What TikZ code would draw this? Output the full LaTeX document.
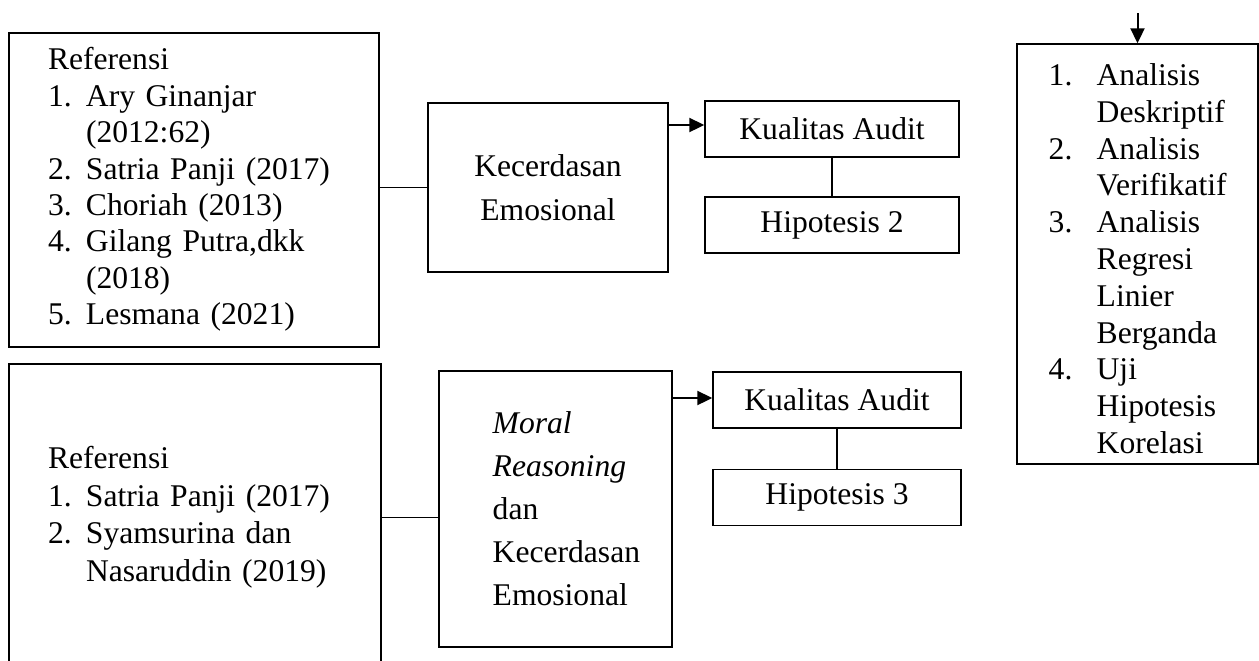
\documentclass[tikz,border=0pt]{standalone}
\usepackage{fontspec}
\setmainfont{Liberation Serif}
\usetikzlibrary{arrows.meta}

\begin{document}
\begin{tikzpicture}[x=0.5pt,y=-0.5pt,
		box/.style={draw,line width=0.7pt,inner sep=0pt,font=\fontsize{15.8}{18.2}\selectfont},
		txt/.style={inner sep=0pt},
		conn/.style={line width=0.7pt},
		arr/.style={line width=1pt,-{Triangle[length=7.5pt,width=7pt]}}]
		\useasboundingbox (0,0) rectangle (1259,660);
		\clip (0,0) rectangle (1259,660);

		% referensi
		\node[box,minimum width=185pt,minimum height=157pt,inner xsep=19.5pt,text width=146pt,align=left] (refA) at (194,190) {%
			\begin{tabular}{@{}p{19pt}@{}l@{}}
				\multicolumn{2}{@{}l@{}}{Referensi}\\
				1. & Ary Ginanjar\\
				   & (2012:62)\\
				2. & Satria Panji (2017)\\
				3. & Choriah (2013)\\
				4. & Gilang Putra,dkk\\
				   & (2018)\\
				5. & Lesmana (2021)
			\end{tabular}};
		\node[box,minimum width=186pt,minimum height=153.5pt,inner xsep=19.5pt,text width=147pt,align=left,font=\fontsize{15.8}{18.7}\selectfont] (refB) at (195,517.5) {%
			\begin{tabular}{@{}p{19pt}@{}l@{}}
				\multicolumn{2}{@{}l@{}}{Referensi}\\
				1. & Satria Panji (2017)\\
				2. & Syamsurina dan\\
				   & Nasaruddin (2019)
			\end{tabular}};

		% variabel
		\node[box,minimum width=120pt,minimum height=84.5pt,align=center,font=\fontsize{15.8}{22}\selectfont] (ke) at (548,187.5) {Kecerdasan\\Emosional};
		\node[box,minimum width=116.5pt,minimum height=138pt] (mr) at (555.5,509) {};
		\node[txt,anchor=west,align=left,font=\fontsize{15.8}{21.5}\selectfont] (mrtxt) at ([xshift=27pt]mr.west) {\textit{Moral}\\\textit{Reasoning}\\dan\\Kecerdasan\\Emosional};

		% kualitas audit dan hipotesis
		\node[box,minimum width=127pt,minimum height=28pt] (kaA) at (832,129) {Kualitas Audit};
		\node[box,minimum width=127pt,minimum height=28pt] (hipA) at (832,225) {Hipotesis 2};
		\node[box,minimum width=124pt,minimum height=28pt] (kaB) at (837,400) {Kualitas Audit};
		\node[box,minimum width=124pt,minimum height=28pt] (hipB) at (837,497.5) {Hipotesis 3};

		% analisis
		\node[box,minimum width=120.5pt,minimum height=210pt] (anl) at (1137.5,254) {};
		\node[txt,anchor=north west,font=\fontsize{15.8}{18.4}\selectfont] (anltxt) at ([xshift=16pt,yshift=-8pt]anl.north west) {%
			\begin{tabular}{@{}p{24pt}@{}l@{}}
				1. & Analisis\\
				   & Deskriptif\\
				2. & Analisis\\
				   & Verifikatif\\
				3. & Analisis\\
				   & Regresi\\
				   & Linier\\
				   & Berganda\\
				4. & Uji\\
				   & Hipotesis\\
				   & Korelasi
			\end{tabular}};

		% garis
		\draw[conn] (ke.west) -- (ke.west -| refA.east);
		\draw[conn] (refB.east) -- (refB.east -| mr.west);
		\draw[conn] (kaA.south) -- (hipA.north);
		\draw[conn] (kaB.south) -- (hipB.north);
		\coordinate (inA) at ([yshift=2pt]kaA.west);
		\coordinate (inB) at ([yshift=1pt]kaB.west);
		\draw[arr] (inA -| ke.east) -- (inA);
		\draw[arr] (inB -| mr.east) -- (inB);
		\coordinate (top) at (1137.5,13);
		\draw[arr] (top) -- (anl.north);
	\end{tikzpicture}
\end{document}
